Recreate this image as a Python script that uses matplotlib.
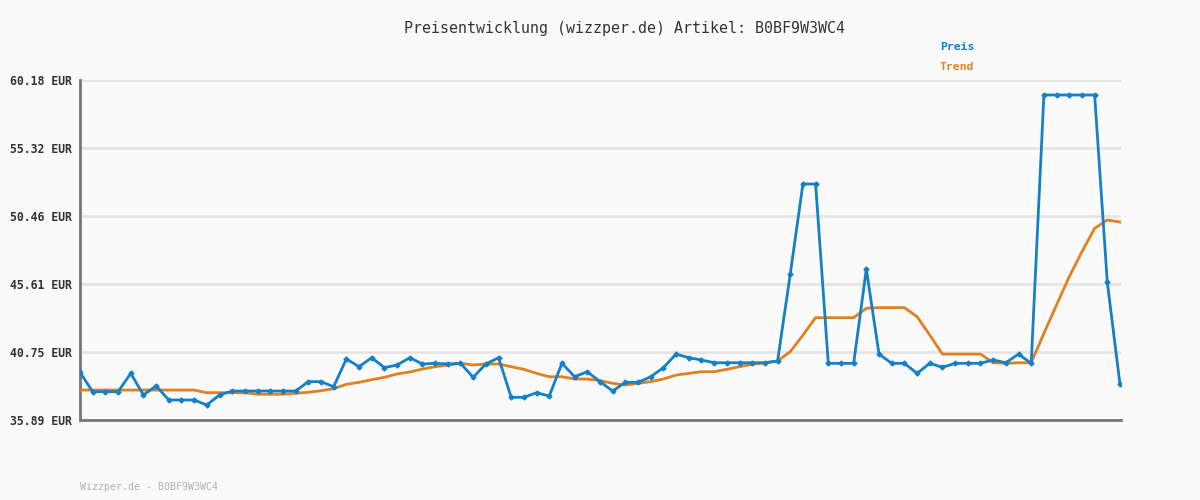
import numpy as np
import matplotlib
matplotlib.use('Agg')
import matplotlib.pyplot as plt

# values (EUR)
preis = [39.30, 37.91, 37.91, 37.91, 39.22, 37.68, 38.32, 37.32, 37.32, 37.32,
         36.96, 37.68, 37.96, 37.96, 37.96, 37.96, 37.96, 37.96, 38.63, 38.63,
         38.27, 40.25, 39.70, 40.34, 39.63, 39.82, 40.34, 39.89, 39.94, 39.89,
         39.94, 38.94, 39.89, 40.34, 37.51, 37.51, 37.84, 37.60, 39.94, 38.98,
         39.34, 38.63, 37.96, 38.58, 38.58, 38.98, 39.63, 40.60, 40.34, 40.18,
         39.98, 39.98, 39.98, 39.98, 39.98, 40.10, 46.30, 52.75, 52.75, 39.94,
         39.94, 39.94, 46.66, 40.60, 39.94, 39.94, 39.22, 39.94, 39.65, 39.94,
         39.94, 39.94, 40.18, 39.98, 40.60, 39.94, 59.11, 59.11, 59.11, 59.11,
         59.11, 45.73, 38.44]
trend = [38.03, 38.03, 38.03, 38.03, 38.03, 38.03, 38.03, 38.03, 38.03, 38.03,
         37.84, 37.84, 37.84, 37.84, 37.73, 37.73, 37.73, 37.80, 37.87, 37.98,
         38.13, 38.44, 38.58, 38.77, 38.94, 39.18, 39.32, 39.53, 39.70, 39.82,
         39.94, 39.82, 39.89, 39.89, 39.70, 39.51, 39.22, 38.98, 38.98, 38.82,
         38.82, 38.70, 38.51, 38.39, 38.51, 38.63, 38.82, 39.10, 39.22, 39.34,
         39.34, 39.51, 39.70, 39.87, 39.98, 40.10, 40.77, 41.95, 43.20, 43.20,
         43.20, 43.20, 43.87, 43.92, 43.92, 43.92, 43.27, 41.96, 40.60, 40.60,
         40.60, 40.60, 39.98, 39.94, 39.98, 39.98, 42.08, 44.11, 46.13, 47.91,
         49.58, 50.18, 50.03]
y_ticks = [35.89, 40.75, 45.61, 50.46, 55.32, 60.18]
artikel = 'B0BF9W3WC4'

bg = '#fafafa'
blue = '#1380c8'
orange = '#e0801e'
mono = 'DejaVu Sans Mono'

fig = plt.figure(figsize=(12, 5), dpi=100, facecolor=bg)
ax = fig.add_axes([80/1200, 80/500, 1041/1200, 340/500])
ax.set_facecolor(bg)

x = np.arange(len(preis))
ax.plot(x, trend, color=orange, lw=2, zorder=3)
ax.plot(x, preis, color=blue, lw=2, marker='D', markersize=2.5, zorder=4)

ax.set_xlim(0, len(preis) - 1 + 0.08)
ax.set_ylim(y_ticks[0], y_ticks[-1])
ax.set_yticks(y_ticks)
ax.set_yticklabels(['{:.2f} EUR'.format(v) for v in y_ticks],
                   fontfamily=mono, fontweight='bold', fontsize=8.3, color='#333333')
ax.set_xticks([])
ax.tick_params(axis='y', length=0, pad=5.5)
ax.grid(axis='y', color='#e4e4e4', lw=2, zorder=0)

for s in ['top', 'right']:
    ax.spines[s].set_visible(False)
for s in ['left', 'bottom']:
    ax.spines[s].set_color('#777777')
    ax.spines[s].set_linewidth(2)

fig.text(624/1200, 1 - 28/500, 'Preisentwicklung (wizzper.de) Artikel: ' + artikel,
         ha='center', va='center', fontfamily=mono, fontsize=10.8, color='#333333')
fig.text(940/1200, 1 - 47/500, 'Preis', ha='left', va='center',
         fontfamily=mono, fontweight='bold', fontsize=8.2, color=blue)
fig.text(940/1200, 1 - 67/500, 'Trend', ha='left', va='center',
         fontfamily=mono, fontweight='bold', fontsize=8.2, color=orange)
fig.text(80/1200, 1 - 487/500, 'Wizzper.de - ' + artikel, ha='left', va='center',
         fontfamily=mono, fontsize=7.1, color='#b0b0b0')

fig.savefig('out.png', dpi=100, facecolor=bg)
